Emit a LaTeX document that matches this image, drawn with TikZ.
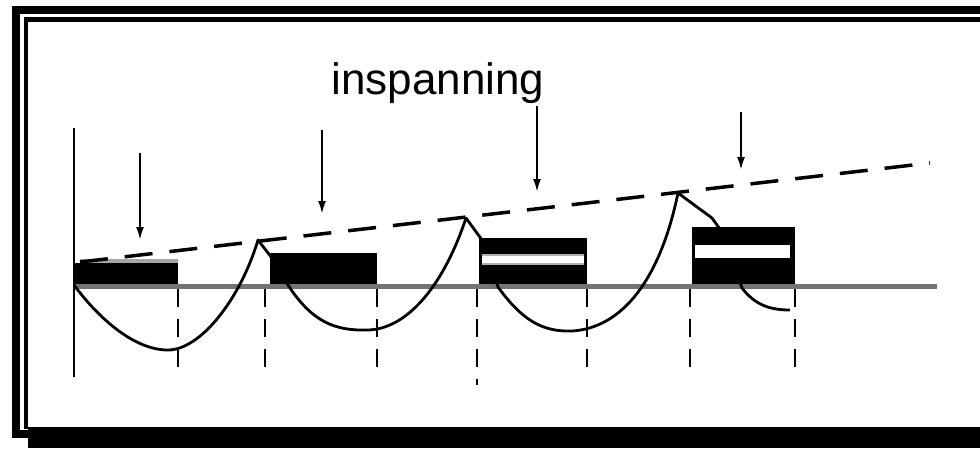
\documentclass[tikz,border=0pt]{standalone}
\usepackage{fontspec}
\setmainfont{Liberation Sans}
\usetikzlibrary{arrows.meta}
\begin{document}
\begin{tikzpicture}[x=1pt,y=-1pt,
  outerframe/.style={line width=8pt},
  innerframe/.style={line width=4.5pt},
  groundline/.style={line width=5pt, draw=black!55},
  sagcurve/.style={line width=2.8pt, line join=round},
  block/.style={fill=black},
  stripe/.style={fill=white},
  guide/.style={line width=2.8pt, dash pattern=on 18pt off 12pt},
  incline/.style={line width=3.5pt, dash pattern=on 28pt off 17pt},
  pointer/.style={line width=2.2pt, -{Latex[length=13pt,width=8pt]}},
  titletext/.style={font=\fontsize{44}{50}\selectfont, inner sep=0pt}]
\useasboundingbox (0,0) rectangle (980,448);
\fill[white] (0,0) rectangle (980,448);
% frame
\draw[outerframe] (980,9.5) -- (16,9.5) -- (16,434) -- (28,434);
\draw[innerframe] (980,19.5) -- (26,19.5) -- (26,429);
\fill (28,427) rectangle (980,448);
% coordinates
\coordinate (axtop) at (74,128);
\coordinate (axbot) at (74,377);
\coordinate (gl) at (74,286);
\coordinate (gr) at (937,286);
\coordinate (a0) at (74,285);
\coordinate (m1) at (168,350);
\coordinate (p1) at (258,240);
\coordinate (s2) at (288,285);
\coordinate (m2) at (368,330);
\coordinate (p2) at (466,218);
\coordinate (s3) at (498,287);
\coordinate (m3) at (572,331);
\coordinate (p3) at (678,193);
\coordinate (s4) at (742,288);
\coordinate (e4) at (790,310);
\coordinate (dl) at (80,262);
\coordinate (dr) at (930,163);
% ground line and axis
\draw[groundline] (gl) -- (gr);
\draw[line width=2.8pt] (axtop) -- (axbot);
% curve
\draw[sagcurve] (a0) .. controls (100,320) and (135,350) .. (m1)
  .. controls (200,350) and (240,300) .. (p1)
  -- (275,262) -- (s2)
  .. controls (312,322) and (335,331) .. (m2)
  .. controls (405,329) and (442,290) .. (p2)
  -- (482,240) -- (s3)
  .. controls (522,320) and (542,332) .. (m3)
  .. controls (622,328) and (660,280) .. (p3)
  -- (712,218) -- (722,232) -- (s4)
  .. controls (755,305) and (770,310) .. (e4);
% blocks
\fill[black!35] (80,259) rectangle (178,263);
\node[block, inner sep=0pt, minimum width=103pt, minimum height=21pt, anchor=north west] (b1) at (75,263) {};
\node[block, inner sep=0pt, minimum width=107pt, minimum height=31pt, anchor=north west] (b2) at (270,253) {};
\node[block, inner sep=0pt, minimum width=108pt, minimum height=46pt, anchor=north west] (b3) at (479,238) {};
\node[block, inner sep=0pt, minimum width=103pt, minimum height=57pt, anchor=north west] (b4) at (692,227) {};
\fill[black!30] (482,254) rectangle (584,256);
\fill[stripe] (482,256) rectangle (584,263);
\fill[black!30] (482,263) rectangle (584,265);
\fill[stripe] (695,245) rectangle (790,258);
% vertical guides
\foreach \x/\y in {178/377, 265/377, 377/377, 477/385, 587/377, 690/377, 795/377}
  \draw[guide] (\x,289) -- (\x,\y);
% inclined dashed line
\draw[incline] (dl) -- (dr);
% arrows
\coordinate (r1t) at (140,153); \coordinate (r1b) at (140,240);
\coordinate (r2t) at (322,130); \coordinate (r2b) at (322,214);
\coordinate (r3t) at (537,106); \coordinate (r3b) at (537,192);
\coordinate (r4t) at (741,112); \coordinate (r4b) at (741,170);
\draw[pointer] (r1t) -- (r1b);
\draw[pointer] (r2t) -- (r2b);
\draw[pointer] (r3t) -- (r3b);
\draw[pointer] (r4t) -- (r4b);
% title
\node[titletext, anchor=base] (title) at (438,94) {inspanning};
\end{tikzpicture}
\end{document}
